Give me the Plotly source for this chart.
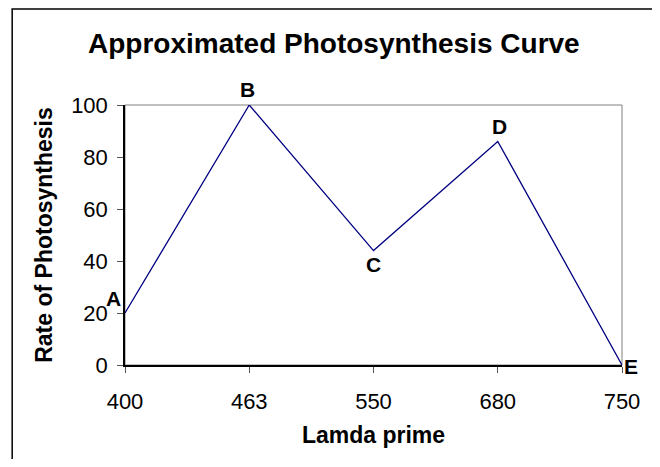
import plotly.graph_objects as go

# ---------------------------------------------------------------------------
# Dati
# ---------------------------------------------------------------------------

lamda = ["400", "463", "550", "680", "750"]        # categorie asse x
rate = [20, 100, 44, 86, 0]                        # velocità di fotosintesi
point_labels = ["A", "B", "C", "D", "E"]
y_ticks = [0, 20, 40, 60, 80, 100]

# spostamento (px) delle etichette rispetto al punto
label_shift = [(-12, 15), (-2, 16), (0, -14), (2, 15), (9, -1)]

FONT = "Liberation Sans, Arial, sans-serif"

fig = go.Figure()

fig.add_trace(go.Scatter(
    x=lamda, y=rate,
    mode="lines",
    line=dict(color="#000080", width=1.3),
    cliponaxis=False,
    hoverinfo="skip",
))

# su asse a categorie l'annotazione usa l'indice della categoria
for i, (yv, lab, (dx, dy)) in enumerate(zip(rate, point_labels, label_shift)):
    fig.add_annotation(x=i, y=yv, text=f"<b>{lab}</b>", showarrow=False,
                       xshift=dx, yshift=dy,
                       font=dict(family=FONT, size=21, color="black"))

# cornice dell'area del grafico (grigia su lati alto/destra)
fig.add_shape(type="rect", xref="paper", yref="paper", x0=0, y0=0, x1=1, y1=1,
              line=dict(color="#808080", width=1), layer="below")
# cornice esterna del grafico
fig.add_shape(type="rect", xref="paper", yref="paper", x0=-0.227, y0=-0.45, x1=1.062, y1=1.369,
              line=dict(color="black", width=1.5), layer="below")

# la pagina ha un margine di 8px: figura ridotta e margini compensati
fig.update_layout(
    width=644, height=451,
    margin=dict(l=117, r=30, t=97, b=94),
    paper_bgcolor="white", plot_bgcolor="white",
    showlegend=False,
    font=dict(family=FONT, color="black"),
    title=dict(text="<b>Approximated Photosynthesis Curve</b>",
               x=0.506, xref="container", xanchor="center",
               y=0.922, yref="container", yanchor="middle",
               font=dict(size=28, family=FONT, color="black")),
)

fig.update_xaxes(
    type="category", range=[0, 4],
    showline=True, linecolor="black", linewidth=1.5,
    ticks="outside", ticklen=6, tickcolor="#555555",
    ticklabelstandoff=10,
    showgrid=False, zeroline=False,
    tickfont=dict(size=22, family=FONT),
    title=dict(text="<b>Lamda prime</b>", font=dict(size=23, family=FONT), standoff=14),
)
fig.update_yaxes(
    range=[0, 100], tickvals=y_ticks,
    showline=True, linecolor="black", linewidth=1.5,
    ticks="outside", ticklen=6, tickcolor="#555555",
    ticklabelstandoff=5,
    showgrid=False, zeroline=False,
    tickfont=dict(size=22, family=FONT),
    title=dict(text="<b>Rate of Photosynthesis</b>", font=dict(size=23, family=FONT), standoff=12),
)

fig.write_html("out.html")
